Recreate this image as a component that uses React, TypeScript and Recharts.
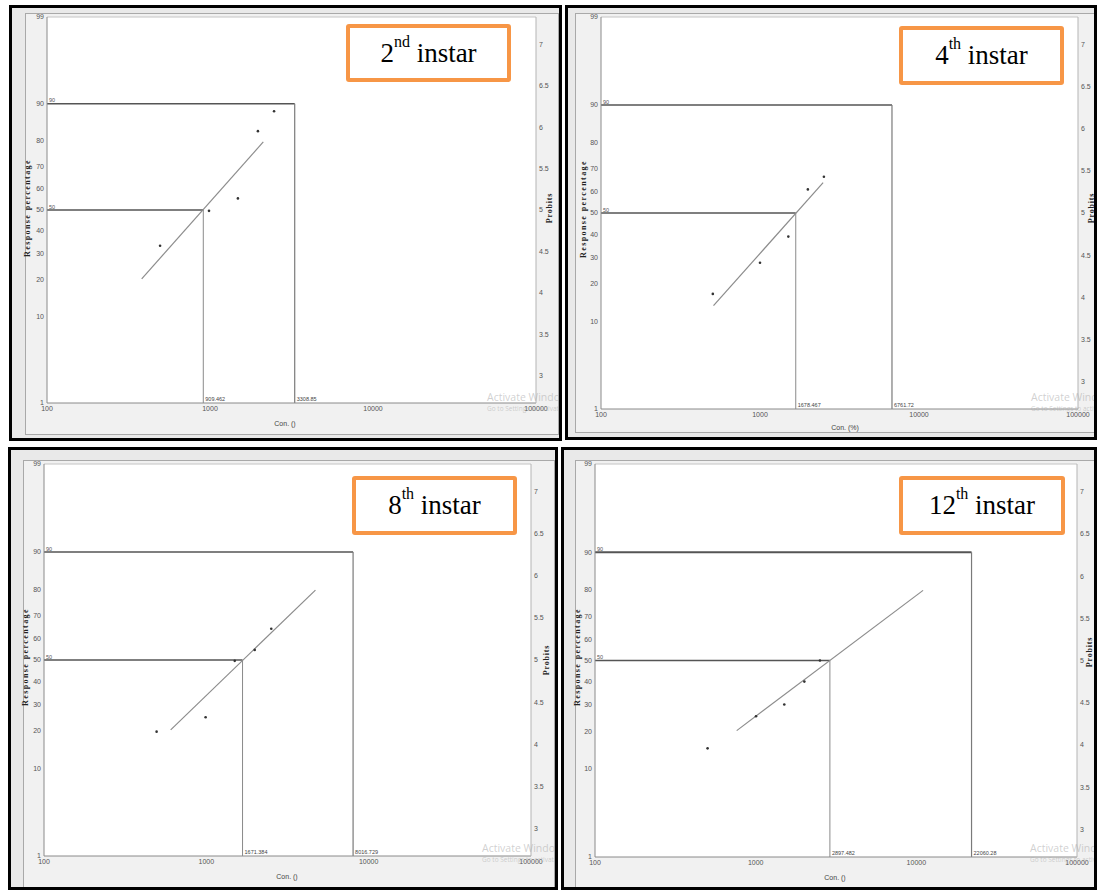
import React from 'react';
import { ComposedChart, Scatter, XAxis, YAxis, ReferenceLine, CartesianGrid } from 'recharts';

// ---------- axis ticks ----------
const xTicks = [100, 1000, 10000, 100000];
const xTickLabels = ['100', '1000', '10000', '100000'];
const percentTickProbits = [2.674, 3.718, 4.158, 4.476, 4.747, 5, 5.253, 5.524, 5.842, 6.282, 7.326];
const percentTickLabels = ['1', '10', '20', '30', '40', '50', '60', '70', '80', '90', '99'];
const probitTicks = [3, 3.5, 4, 4.5, 5, 5.5, 6, 6.5, 7];
const probitTickLabels = ['3', '3.5', '4', '4.5', '5', '5.5', '6', '6.5', '7'];
const probitDomain = [2.674, 7.326];
const xDomain = [100, 100000];
const probit50 = 5;
const probit90 = 6.2816;

// ---------- panel titles ----------
const instarNumbers = ['2', '4', '8', '12'];
const instarSuffixes = ['nd', 'th', 'th', 'th'];
const xAxisTitles = ['Con. ()', 'Con. (%)', 'Con. ()', 'Con. ()'];

// ---------- observed points (concentration, probit) ----------
const conc2nd = [494, 986, 1483, 1968, 2472];
const probit2nd = [4.57, 4.99, 5.14, 5.95, 6.19];
const conc4th = [505, 1000, 1507, 2000, 2523];
const probit4th = [4.04, 4.41, 4.72, 5.28, 5.43];
const conc8th = [494, 990, 1496, 1986, 2512];
const probit8th = [4.15, 4.32, 4.99, 5.12, 5.37];
const conc12th = [502, 1005, 1507, 2009, 2512];
const probit12th = [3.96, 4.34, 4.48, 4.75, 5.0];

// ---------- fitted regression line end points ----------
const fitConc2nd = [381, 2123];
const fitProbit2nd = [4.17, 5.82];
const fitConc4th = [510, 2495];
const fitProbit4th = [3.9, 5.36];
const fitConc8th = [603, 4700];
const fitProbit8th = [4.17, 5.83];
const fitConc12th = [762, 11015];
const fitProbit12th = [4.17, 5.83];

// ---------- LC values ----------
const lc50Values = [909.462, 1678.467, 1671.384, 2897.482];
const lc90Values = [3308.85, 6761.72, 8016.729, 22060.28];
const lc50Labels = ['909.462', '1678.467', '1671.384', '2897.482'];
const lc90Labels = ['3308.85', '6761.72', '8016.729', '22060.28'];

const concSets = [conc2nd, conc4th, conc8th, conc12th];
const probitSets = [probit2nd, probit4th, probit8th, probit12th];
const fitConcSets = [fitConc2nd, fitConc4th, fitConc8th, fitConc12th];
const fitProbitSets = [fitProbit2nd, fitProbit4th, fitProbit8th, fitProbit12th];

// ---------- layout ----------
const layouts = [
  { outer: { l: 9, t: 5, w: 553, h: 436 }, frame: { l: 25, t: 13, w: 534, h: 422 }, plot: { x: 47, y: 17, w: 489, h: 386 }, badge: { l: 346, t: 24, w: 165, h: 58 }, yTitle: { x: 28, y: 208 }, pTitle: { x: 550, y: 208 }, xTitle: { x: 285, y: 424 }, wm: { x: 487, y: 392 } },
  { outer: { l: 565, t: 5, w: 532, h: 435 }, frame: { l: 575, t: 13, w: 530, h: 420 }, plot: { x: 601, y: 17, w: 477, h: 392 }, badge: { l: 899, t: 26, w: 165, h: 59 }, yTitle: { x: 584, y: 209 }, pTitle: { x: 1092, y: 208 }, xTitle: { x: 845, y: 428 }, wm: { x: 1031, y: 392 } },
  { outer: { l: 8, t: 447, w: 550, h: 443 }, frame: { l: 23, t: 460, w: 532, h: 428 }, plot: { x: 44, y: 464, w: 487, h: 392 }, badge: { l: 352, t: 476, w: 165, h: 59 }, yTitle: { x: 26, y: 657 }, pTitle: { x: 547, y: 660 }, xTitle: { x: 287, y: 877 }, wm: { x: 482, y: 843 } },
  { outer: { l: 561, t: 447, w: 536, h: 443 }, frame: { l: 575, t: 460, w: 530, h: 428 }, plot: { x: 595, y: 464, w: 482, h: 393 }, badge: { l: 899, t: 476, w: 166, h: 59 }, yTitle: { x: 578, y: 657 }, pTitle: { x: 1090, y: 652 }, xTitle: { x: 835, y: 878 }, wm: { x: 1030, y: 843 } },
];

const tickFont = { fontSize: 7, fill: '#555', fontFamily: '"Liberation Sans Narrow", "Liberation Sans", Arial, sans-serif' };

const hLabel = (text: string) => (props: any) => {
  const vb = props.viewBox || {};
  return (
    <text x={vb.x + 2} y={vb.y - 1.5} fontSize={5.5} fill="#555" fontFamily="Liberation Sans, sans-serif">
      {text}
    </text>
  );
};
const vLabel = (text: string) => (props: any) => {
  const vb = props.viewBox || {};
  return (
    <text x={vb.x + 2} y={vb.y + vb.height - 2} fontSize={5.5} fill="#444" fontFamily="Liberation Sans, sans-serif">
      {text}
    </text>
  );
};

function Panel({ idx }: { idx: number }) {
  const L = layouts[idx];
  const ox = L.outer.l + 3;
  const oy = L.outer.t + 3;
  const leftW = 24;
  const rightW = 24;
  const topM = 6;
  const bottomH = 16;
  const points = concSets[idx].map((c, i) => ({ x: c, y: probitSets[idx][i] }));
  const fit = fitConcSets[idx].map((c, i) => ({ x: c, y: fitProbitSets[idx][i] }));
  const lc50 = lc50Values[idx];
  const lc90 = lc90Values[idx];

  return (
    <div
      style={{
        position: 'absolute',
        left: L.outer.l,
        top: L.outer.t,
        width: L.outer.w,
        height: L.outer.h,
        border: '3px solid #000',
        boxSizing: 'border-box',
        background: '#e9e9e9',
        overflow: 'hidden',
      }}
    >
      <div
        style={{
          position: 'absolute',
          left: L.frame.l - ox,
          top: L.frame.t - oy,
          width: L.frame.w,
          height: L.frame.h,
          border: '1px solid #a9a9a9',
          boxSizing: 'border-box',
          background: '#f1f1f1',
        }}
      />
      <div style={{ position: 'absolute', left: L.plot.x - leftW - ox, top: L.plot.y - topM - oy }}>
        <ComposedChart
          width={leftW + L.plot.w + rightW}
          height={topM + L.plot.h + bottomH}
          margin={{ top: topM, right: 0, bottom: 0, left: 0 }}
        >
          <CartesianGrid fill="#ffffff" horizontal={false} vertical={false} stroke="none" />
          <XAxis
            dataKey="x"
            type="number"
            scale="log"
            domain={xDomain}
            ticks={xTicks}
            interval={0}
            allowDataOverflow
            height={bottomH}
            tick={tickFont}
            tickLine={false}
            tickSize={2}
            tickMargin={1}
            axisLine={{ stroke: '#8a8a8a' }}
            tickFormatter={(v: number) => xTickLabels[xTicks.indexOf(v)] ?? String(v)}
          />
          <YAxis
            dataKey="y"
            type="number"
            domain={probitDomain}
            ticks={percentTickProbits}
            interval={0}
            allowDataOverflow
            width={leftW}
            tick={tickFont}
            tickLine={false}
            tickSize={2}
            tickMargin={1}
            axisLine={{ stroke: '#8a8a8a' }}
            tickFormatter={(v: number) => percentTickLabels[percentTickProbits.indexOf(v)] ?? ''}
          />
          <YAxis
            yAxisId="r"
            dataKey="y"
            orientation="right"
            type="number"
            domain={probitDomain}
            ticks={probitTicks}
            interval={0}
            allowDataOverflow
            width={rightW}
            tick={tickFont}
            tickLine={false}
            tickSize={2}
            tickMargin={1}
            axisLine={{ stroke: '#b5b5b5' }}
            tickFormatter={(v: number) => probitTickLabels[probitTicks.indexOf(v)] ?? ''}
          />
          <ReferenceLine y={probitDomain[1]} stroke="#c4c4c4" strokeWidth={1} />
          <ReferenceLine
            segment={[{ x: xDomain[0], y: probit90 }, { x: lc90, y: probit90 }]}
            stroke="#555"
            strokeWidth={idx === 3 ? 2 : 1.5}
            label={hLabel('90')}
          />
          <ReferenceLine
            segment={[{ x: lc90, y: probit90 }, { x: lc90, y: probitDomain[0] }]}
            stroke="#7a7a7a"
            strokeWidth={1.2}
            label={vLabel(lc90Labels[idx])}
          />
          <ReferenceLine
            segment={[{ x: xDomain[0], y: probit50 }, { x: lc50, y: probit50 }]}
            stroke="#555"
            strokeWidth={1.5}
            label={hLabel('50')}
          />
          <ReferenceLine
            segment={[{ x: lc50, y: probit50 }, { x: lc50, y: probitDomain[0] }]}
            stroke="#8a8a8a"
            strokeWidth={1}
            label={vLabel(lc50Labels[idx])}
          />
          <Scatter
            data={fit}
            dataKey="y"
            isAnimationActive={false}
            line={{ stroke: '#8c8c8c', strokeWidth: 1.2 }}
            shape={() => <g />}
          />
          <Scatter
            data={points}
            dataKey="y"
            isAnimationActive={false}
            shape={(p: any) => <circle cx={p.cx} cy={p.cy} r={1.3} fill="#333" />}
          />
        </ComposedChart>
      </div>

      {/* watermark */}
      <div
        style={{
          position: 'absolute',
          left: L.wm.x - ox,
          top: L.wm.y - oy,
          fontFamily: '"Open Sans", "Liberation Sans", sans-serif',
          color: 'rgba(170,170,170,0.55)',
          whiteSpace: 'nowrap',
          lineHeight: 1,
          pointerEvents: 'none',
        }}
      >
        <div style={{ fontSize: 10.5 }}>Activate Windows</div>
        <div style={{ fontSize: 6.5, marginTop: 3 }}>Go to Settings to activate Windows.</div>
      </div>

      {/* y-axis title */}
      <div
        style={{
          position: 'absolute',
          left: L.yTitle.x - ox - 60,
          top: L.yTitle.y - oy - 5,
          width: 120,
          height: 10,
          lineHeight: '10px',
          textAlign: 'center',
          transform: 'rotate(-90deg)',
          fontFamily: '"Liberation Serif", serif',
          fontWeight: 'bold',
          fontSize: 8,
          letterSpacing: 1.4,
          color: '#222',
          whiteSpace: 'nowrap',
        }}
      >
        Response percentage
      </div>
      {/* probit title */}
      <div
        style={{
          position: 'absolute',
          left: L.pTitle.x - ox - 30,
          top: L.pTitle.y - oy - 5,
          width: 60,
          height: 10,
          lineHeight: '10px',
          textAlign: 'center',
          transform: 'rotate(-90deg)',
          fontFamily: '"Liberation Serif", serif',
          fontWeight: 'bold',
          fontSize: 8,
          letterSpacing: 0.8,
          color: '#222',
          whiteSpace: 'nowrap',
        }}
      >
        Probits
      </div>
      {/* x title */}
      <div
        style={{
          position: 'absolute',
          left: L.xTitle.x - ox - 30,
          top: L.xTitle.y - oy - 5,
          width: 60,
          height: 10,
          lineHeight: '10px',
          textAlign: 'center',
          fontFamily: '"Liberation Sans Narrow", "Liberation Sans", sans-serif',
          fontSize: 7,
          color: '#444',
          whiteSpace: 'nowrap',
        }}
      >
        {xAxisTitles[idx]}
      </div>
      {/* badge */}
      <div
        style={{
          position: 'absolute',
          left: L.badge.l - ox,
          top: L.badge.t - oy,
          width: L.badge.w,
          height: L.badge.h,
          border: '4px solid #f79646',
          borderRadius: 3,
          boxSizing: 'border-box',
          background: '#fff',
          display: 'flex',
          alignItems: 'center',
          justifyContent: 'center',
          fontFamily: '"Liberation Serif", "Times New Roman", serif',
          fontSize: 27,
          color: '#000',
          whiteSpace: 'nowrap',
        }}
      >
        <span>
          {instarNumbers[idx]}
          <sup style={{ fontSize: 16, verticalAlign: 'top', position: 'relative', top: -5 }}>{instarSuffixes[idx]}</sup>
          {' instar'}
        </span>
      </div>
    </div>
  );
}

export default function App() {
  return (
    <div style={{ position: 'absolute', left: 0, top: 0, width: 1097, height: 890, background: '#fff', overflow: 'hidden' }}>
      {[0, 1, 2, 3].map((i) => (
        <Panel key={i} idx={i} />
      ))}
    </div>
  );
}
